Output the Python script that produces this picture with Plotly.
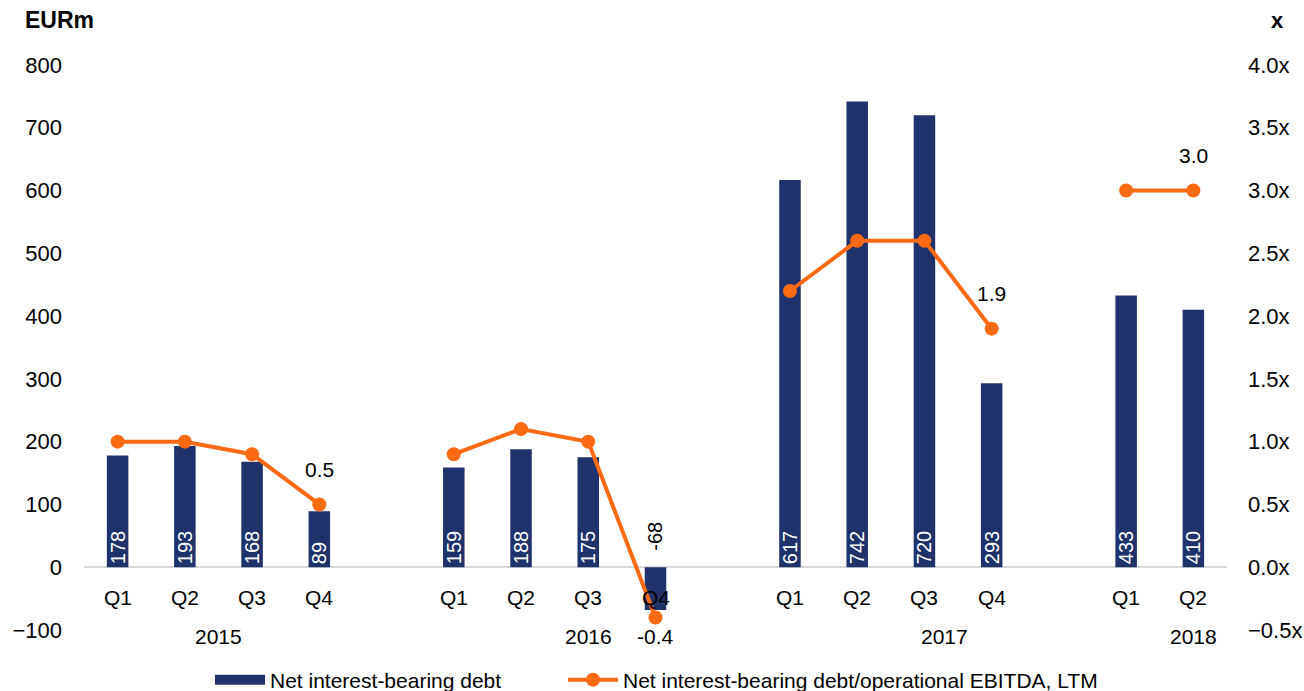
import plotly.graph_objects as go

quarters = ["Q1", "Q2", "Q3", "Q4", "", "Q1", "Q2", "Q3", "Q4", "", "Q1", "Q2", "Q3", "Q4", "", "Q1", "Q2"]
debt = [178, 193, 168, 89, None, 159, 188, 175, -68, None, 617, 742, 720, 293, None, 433, 410]
ratio = [1.0, 1.0, 0.9, 0.5, None, 0.9, 1.1, 1.0, -0.4, None, 2.2, 2.6, 2.6, 1.9, None, 3.0, 3.0]
ratio_labels = ["", "", "", "0.5", "", "", "", "", "-0.4", "", "", "", "", "1.9", "", "", "3.0"]
years = ["2015", "2016", "2017", "2018"]
year_pos = [1.5, 7.0, 12.3, 16.0]

x = list(range(len(quarters)))
NAVY = "#1F326B"
ORANGE = "#FF6A13"
FONT = "Liberation Sans, Arial, sans-serif"

bar_text = [("" if v is None else str(v)) for v in debt]
bar_pos = ["inside" if (v is not None and v > 0) else "none" for v in debt]

fig = go.Figure()
fig.add_trace(go.Bar(
    x=x, y=debt, name="Net interest-bearing debt", showlegend=False,
    marker=dict(color=NAVY, line=dict(width=0)),
    text=bar_text, textposition=bar_pos, textangle=-90,
    insidetextanchor="start",
    textfont=dict(color="white", size=20, family=FONT),
    width=0.32,
))
# legend entry for bars drawn as a wide rectangle
fig.add_trace(go.Scatter(
    x=[None], y=[None], name="Net interest-bearing debt", mode="lines",
    line=dict(color=NAVY, width=15), hoverinfo="skip", legend="legend",
))
fig.add_trace(go.Scatter(
    x=x, y=ratio, yaxis="y2", name="Net interest-bearing debt/operational EBITDA, LTM",
    mode="lines+markers", connectgaps=False,
    line=dict(color=ORANGE, width=4),
    marker=dict(color=ORANGE, size=14), legend="legend2",
))

annotations = []
for xi, q in zip(x, quarters):
    if q:
        annotations.append(dict(x=xi, y=0, xref="x", yref="y", text=q, showarrow=False,
                                yshift=-30, font=dict(size=21, color="black", family=FONT)))
for yp, yr in zip(year_pos, years):
    annotations.append(dict(x=yp, y=0, xref="x", yref="y", text=yr, showarrow=False,
                            yshift=-69, font=dict(size=21, color="black", family=FONT)))
for xi, v in zip(x, debt):
    if v is not None and v < 0:
        annotations.append(dict(x=xi, y=0, xref="x", yref="y", text=str(v), showarrow=False,
                                textangle=-90, yshift=31, font=dict(size=20, color="black", family=FONT)))
for xi, v, t in zip(x, ratio, ratio_labels):
    if t:
        shift = 35 if v >= 0 else -19
        annotations.append(dict(x=xi, y=v, xref="x", yref="y2", text=t, showarrow=False,
                                yshift=shift, font=dict(size=21, color="black", family=FONT)))
annotations.append(dict(x=-61/1143, y=1 + 45/565, xref="paper", yref="paper", xanchor="left",
                        yanchor="middle", text="<b>EURm</b>", showarrow=False,
                        font=dict(size=23, color="black", family=FONT)))
annotations.append(dict(x=(1277 - 84) / 1143, y=1 + 45/565, xref="paper", yref="paper",
                        xanchor="center", yanchor="middle", text="<b>x</b>", showarrow=False,
                        font=dict(size=22, color="black", family=FONT)))

legend_common = dict(orientation="h", xanchor="left", y=-50/565, yanchor="middle",
                     font=dict(size=21, color="black", family=FONT), itemwidth=50,
                     bgcolor="rgba(0,0,0,0)")

fig.update_layout(
    width=1304, height=691,
    margin=dict(l=84, r=77, t=65, b=61, autoexpand=False),
    paper_bgcolor="white", plot_bgcolor="white",
    font=dict(family=FONT, size=21, color="black"),
    showlegend=True,
    annotations=annotations,
    legend=dict(x=(210 - 84) / 1143, **legend_common),
    legend2=dict(x=(563 - 84) / 1143, **legend_common),
    uniformtext=dict(minsize=20, mode="show"),
    bargap=0.68,
    xaxis=dict(range=[-0.5, 16.5], showticklabels=False, showgrid=False, zeroline=False,
               showline=False, ticks=""),
    yaxis=dict(range=[-100, 800], dtick=100, showgrid=False, zeroline=True,
               zerolinecolor="#D9D9D9", zerolinewidth=2, showline=False,
               tickfont=dict(size=22), ticklabelstandoff=21),
    yaxis2=dict(range=[-0.5, 4.0], dtick=0.5, overlaying="y", side="right", showgrid=False,
                zeroline=False, showline=False, tickformat=".1f", ticksuffix="x",
                tickfont=dict(size=22), ticklabelstandoff=20),
)

fig.write_html("out.html")
